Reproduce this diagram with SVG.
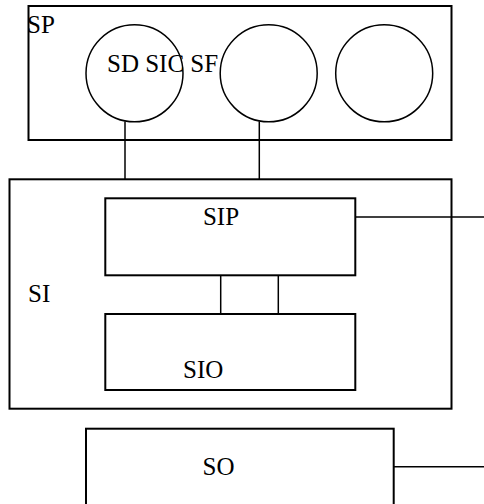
<svg xmlns="http://www.w3.org/2000/svg" width="484" height="504" viewBox="0 0 484 504">
<style>
.b{fill:none;stroke:#000;stroke-width:2}
.c{fill:none;stroke:#000;stroke-width:1.5}
.t{font-family:"Liberation Serif","Times New Roman",serif;font-size:25px;fill:#000}
</style>
<rect width="484" height="504" fill="#fff"/>
<g id="SP"><rect class="b" x="28.5" y="6" width="423" height="134"/><text class="t" x="27" y="33">SP</text></g>
<g id="SD"><circle class="c" cx="134.5" cy="73.3" r="48.5"/></g>
<g id="SIC"><circle class="c" cx="268.7" cy="73.3" r="48.5"/></g>
<g id="SF"><circle class="c" cx="384.2" cy="73.3" r="48.5"/></g>
<text class="t" x="107" y="71.5">SD SIC SF</text>
<g id="SI"><rect class="b" x="9.5" y="179.3" width="442" height="229.4"/><text class="t" x="28" y="301.5">SI</text></g>
<g id="SIP"><rect class="b" x="105.3" y="198.3" width="250" height="77"/><text class="t" x="221" y="225" text-anchor="middle">SIP</text></g>
<g id="SIO"><rect class="b" x="105.3" y="314" width="250" height="76"/><text class="t" x="183" y="378">SIO</text></g>
<g id="SO"><rect class="b" x="86" y="428.7" width="307.7" height="90"/><text class="t" x="202.5" y="475">SO</text></g>
<g id="connectors">
<line class="c" x1="125" y1="121.5" x2="125" y2="179"/>
<line class="c" x1="259.3" y1="121.5" x2="259.3" y2="179"/>
<line class="c" x1="220.7" y1="275.3" x2="220.7" y2="314"/>
<line class="c" x1="278.3" y1="275.3" x2="278.3" y2="314"/>
<line class="c" x1="355.3" y1="217" x2="484" y2="217"/>
<line class="c" x1="393.7" y1="466.7" x2="484" y2="466.7"/>
</g>
</svg>
